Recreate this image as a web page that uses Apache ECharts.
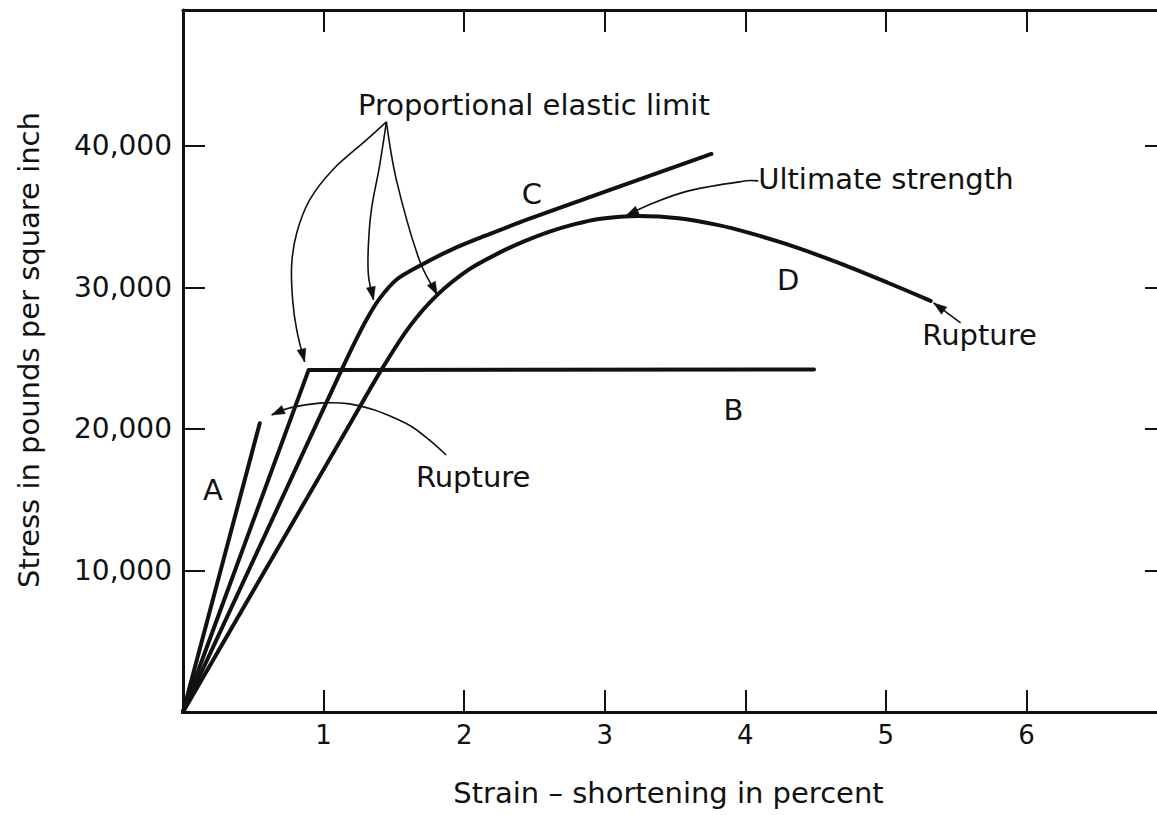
<!DOCTYPE html>
<html>
<head>
<meta charset="utf-8">
<script src="https://cdn.jsdelivr.net/npm/echarts@6/dist/echarts.min.js"></script>
<style>
html,body{margin:0;padding:0;background:#fff;width:1157px;height:815px;overflow:hidden;}
#c{width:1170px;height:815px;}
</style>
</head>
<body>
<div id="c"></div>
<script>
// ---------- data (strain %, stress psi) ----------
const curveA = [[0, 0], [0.546, 20400]];
const curveB = [[0, 0], [0.894, 24170], [4.489, 24200]];
const curveC = [[0, 0], [1.0, 21430], [1.128, 24170], [1.227, 26220], [1.312, 27840], [1.397, 29190],
  [1.518, 30540], [1.702, 31620], [1.915, 32690], [2.156, 33670], [2.461, 34840], [3.759, 39430]];
const curveD = [[0, 0], [1.2, 20560], [1.411, 24170], [1.610, 27210], [1.809, 29470], [2.035, 31270],
  [2.248, 32440], [2.426, 33250], [2.603, 33920], [2.780, 34450], [2.957, 34840], [3.241, 35050],
  [3.525, 34890], [3.809, 34400], [4.021, 33870], [4.305, 33020], [4.660, 31750], [5.014, 30330],
  [5.319, 29050]];

// annotation arrows (tail ... tip), in data units
const arrowElastic1 = [[1.447, 41700], [1.305, 40420], [1.064, 38300], [0.901, 36180], [0.809, 33850],
  [0.773, 31610], [0.780, 29120], [0.809, 27000], [0.865, 24740]];
const arrowElastic2 = [[1.447, 41700], [1.397, 38520], [1.340, 35480], [1.319, 33000], [1.319, 30880], [1.355, 29120]];
const arrowElastic3 = [[1.447, 41700], [1.518, 37600], [1.681, 31940], [1.809, 29470]];
const arrowUltimate = [[4.092, 37530], [4.007, 37530], [3.596, 36820], [3.312, 35830], [3.149, 35050]];
const arrowRuptureD = [[5.532, 27490], [5.340, 28900]];
const arrowRuptureA = [[1.872, 18160], [1.752, 19220], [1.631, 20140], [1.504, 20780], [1.362, 21340],
  [1.184, 21770], [1.007, 21840], [0.830, 21630], [0.709, 21340], [0.631, 20990]];

const noteTexts = ['Proportional elastic limit', 'C', 'Ultimate strength', 'D', 'Rupture', 'B', 'Rupture', 'A'];
const notePoints = [[2.496, 42900], [2.482, 36610], [5.0, 37670], [4.305, 30530], [5.667, 26640], [3.915, 21340], [2.064, 16610], [0.213, 15690]];

const xTickValues = [1, 2, 3, 4, 5, 6];
const xTickLabels = ['1', '2', '3', '4', '5', '6'];
const yTickValues = [10000, 20000, 30000, 40000];
const yTickLabels = ['10,000', '20,000', '30,000', '40,000'];
const xAxisName = 'Strain – shortening in percent';
const yAxisName = 'Stress in pounds per square inch';

// ---------- chart ----------
const FONT = '"DejaVu Sans", sans-serif';
const INK = '#111';
const arrows = [arrowElastic1, arrowElastic2, arrowElastic3, arrowUltimate, arrowRuptureD, arrowRuptureA];

// the frame's right edge lies just outside the 1157px window, as in the reference
const chart = echarts.init(document.getElementById('c'), null, {renderer: 'svg', width: 1170, height: 815});

function xLabel(v) { const i = xTickValues.indexOf(v); return i >= 0 ? xTickLabels[i] : ''; }
function yLabel(v) { const i = yTickValues.indexOf(v); return i >= 0 ? yTickLabels[i] : ''; }

const axisLine = {show: true, onZero: false, lineStyle: {color: INK, width: 3}};
const axisTick = {show: true, inside: true, length: 22, lineStyle: {color: INK, width: 2}};

function curve(data, smooth) {
  return {
    type: 'line', data: data, showSymbol: false, symbol: 'none', smooth: smooth,
    lineStyle: {color: INK, width: 4, cap: 'round', join: 'round'}, silent: true, z: 3
  };
}

const option = {
  animation: false,
  backgroundColor: '#fff',
  grid: {left: 183, right: 0, top: 10, bottom: 103, containLabel: false, show: false},
  xAxis: [{
    type: 'value', position: 'bottom', min: 0, max: 7, interval: 1,
    name: xAxisName, nameLocation: 'middle', nameGap: 66,
    nameTextStyle: {fontSize: 29, fontFamily: FONT, color: INK, padding: [0, 13, 0, 0]},
    axisLine: axisLine, axisTick: axisTick,
    axisLabel: {fontSize: 26, fontFamily: FONT, color: INK, margin: 10, formatter: xLabel},
    splitLine: {show: false}
  }, {
    type: 'value', position: 'top', min: 0, max: 7, interval: 1,
    axisLine: axisLine, axisTick: axisTick, axisLabel: {show: false}, splitLine: {show: false}
  }],
  yAxis: [{
    type: 'value', position: 'left', min: 0, max: 49600, interval: 10000,
    name: yAxisName, nameLocation: 'middle', nameGap: 140, nameRotate: 90,
    nameTextStyle: {fontSize: 29, fontFamily: FONT, color: INK, padding: [0, 0, 0, 22]},
    axisLine: axisLine, axisTick: axisTick,
    axisLabel: {fontSize: 28, fontFamily: FONT, color: INK, margin: 11, formatter: yLabel},
    splitLine: {show: false}
  }, {
    type: 'value', position: 'right', min: 0, max: 49600, interval: 10000,
    axisLine: axisLine, axisTick: axisTick,
    axisLabel: {show: false}, splitLine: {show: false}
  }],
  series: [
    curve(curveA, false),
    curve(curveB, false),
    curve(curveC, 0.3),
    curve(curveD, 0.3),
    {
      type: 'custom', silent: true, clip: false, z: 4,
      data: arrows.map((a, i) => [a[a.length - 1][0], a[a.length - 1][1], i]),
      renderItem: function (params, api) {
        const path = arrows[params.dataIndex];
        const pts = path.map(p => api.coord(p));
        const n = pts.length;
        const tip = pts[n - 1], prev = pts[n - 2];
        const dx = tip[0] - prev[0], dy = tip[1] - prev[1];
        const L = Math.hypot(dx, dy) || 1;
        const ux = dx / L, uy = dy / L;
        const hl = 13, hw = 4.5;
        const bx = tip[0] - ux * hl, by = tip[1] - uy * hl;
        const head = [tip, [bx - uy * hw, by + ux * hw], [bx + uy * hw, by - ux * hw]];
        return {
          type: 'group',
          children: [
            {type: 'polyline', shape: {points: pts, smooth: n > 2 ? 0.35 : 0},
              style: {stroke: INK, lineWidth: 1.6, fill: null}},
            {type: 'polygon', shape: {points: head}, style: {fill: INK, stroke: INK, lineWidth: 0.5}}
          ]
        };
      }
    },
    {
      type: 'custom', silent: true, clip: false, z: 5,
      data: notePoints.map((p, i) => [p[0], p[1], i]),
      renderItem: function (params, api) {
        const pos = api.coord(notePoints[params.dataIndex]);
        return {
          type: 'text', x: pos[0], y: pos[1],
          style: {text: noteTexts[params.dataIndex], fontSize: 29, fontFamily: FONT, fill: INK,
            align: 'center', verticalAlign: 'middle'}
        };
      }
    }
  ]
};
chart.setOption(option);
</script>
</body>
</html>
